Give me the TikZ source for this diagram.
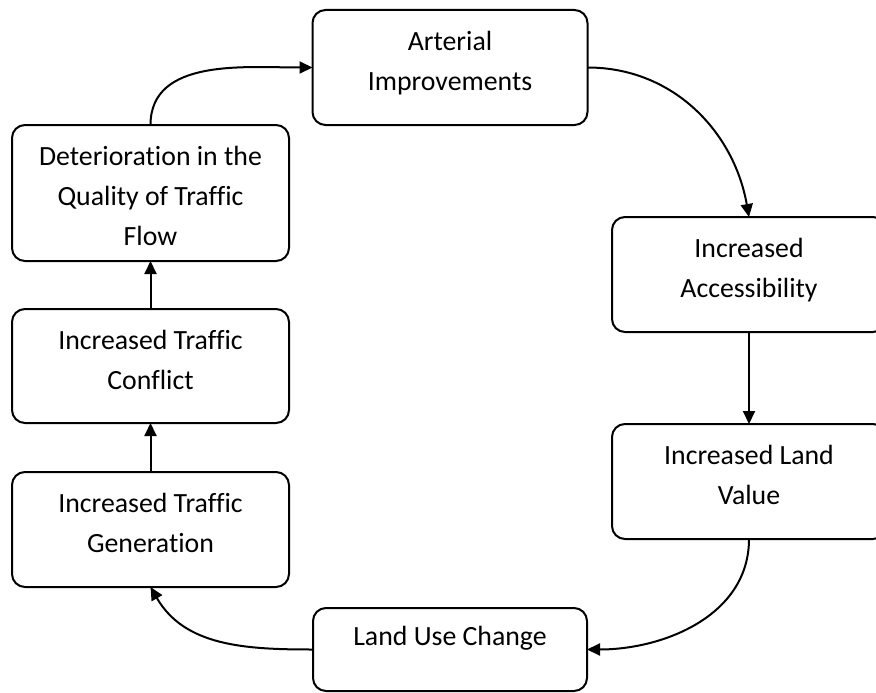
\documentclass[tikz,border=0pt]{standalone}
\usepackage{fontspec}
\setmainfont{Carlito}[Ligatures=NoCommon]
\usetikzlibrary{arrows.meta}
\begin{document}
\begin{tikzpicture}[x=1pt,y=1pt,
  box/.style={draw, line width=2pt, rounded corners=13pt, inner sep=0pt, outer sep=0pt},
  txt/.style={anchor=north, inner sep=0pt, align=center, font=\fontsize{27.8}{40}\selectfont},
  arrow/.style={line width=2pt, -{Triangle[length=13pt,width=12pt]}}]
\useasboundingbox (0,0) rectangle (876,-693);
% boxes
\node[box, minimum width=275pt, minimum height=115pt] (art) at (450,-67.5) {};
\node[box, minimum width=274pt, minimum height=115pt] (acc) at (749,-274.5) {};
\node[box, minimum width=274pt, minimum height=115pt] (lv) at (749,-481.5) {};
\node[box, minimum width=274pt, minimum height=83pt] (lu) at (450,-649.5) {};
\node[box, minimum width=277pt, minimum height=115pt] (gen) at (150.5,-529.5) {};
\node[box, minimum width=277pt, minimum height=114pt] (conf) at (150.5,-366) {};
\node[box, minimum width=277pt, minimum height=136pt] (det) at (150.5,-193) {};
% texts
\node[txt] (art-t) at ([yshift=-12pt]art.north) {\strut Arterial\\\strut Improvements};
\node[txt] (acc-t) at ([yshift=-12pt]acc.north) {\strut Increased\\\strut Accessibility};
\node[txt] (lv-t) at ([yshift=-12pt]lv.north) {\strut Increased Land\\\strut Value};
\node[txt] (lu-t) at ([yshift=-9pt]lu.north) {\strut Land Use Change};
\node[txt] (gen-t) at ([yshift=-12pt]gen.north) {\strut Increased Traffic\\\strut Generation};
\node[txt] (conf-t) at ([yshift=-12pt]conf.north) {\strut Increased Traffic\\\strut Conflict};
\node[txt] (det-t) at ([yshift=-12pt]det.north) {\strut Deterioration in the\\\strut Quality of Traffic\\\strut Flow};
% connectors
\draw[arrow] (det.north) to[out=90,in=180] (art.west);
\draw[arrow] (art.east) to[out=0,in=100] (acc.north);
\draw[arrow] (acc.south) -- (lv.north);
\draw[arrow] (lv.south) to[out=-90,in=0] (lu.east);
\draw[arrow] (lu.west) to[out=180,in=-60] (gen.south);
\draw[arrow] (gen.north) -- (conf.south);
\draw[arrow] (conf.north) -- (det.south);
\end{tikzpicture}
\end{document}
